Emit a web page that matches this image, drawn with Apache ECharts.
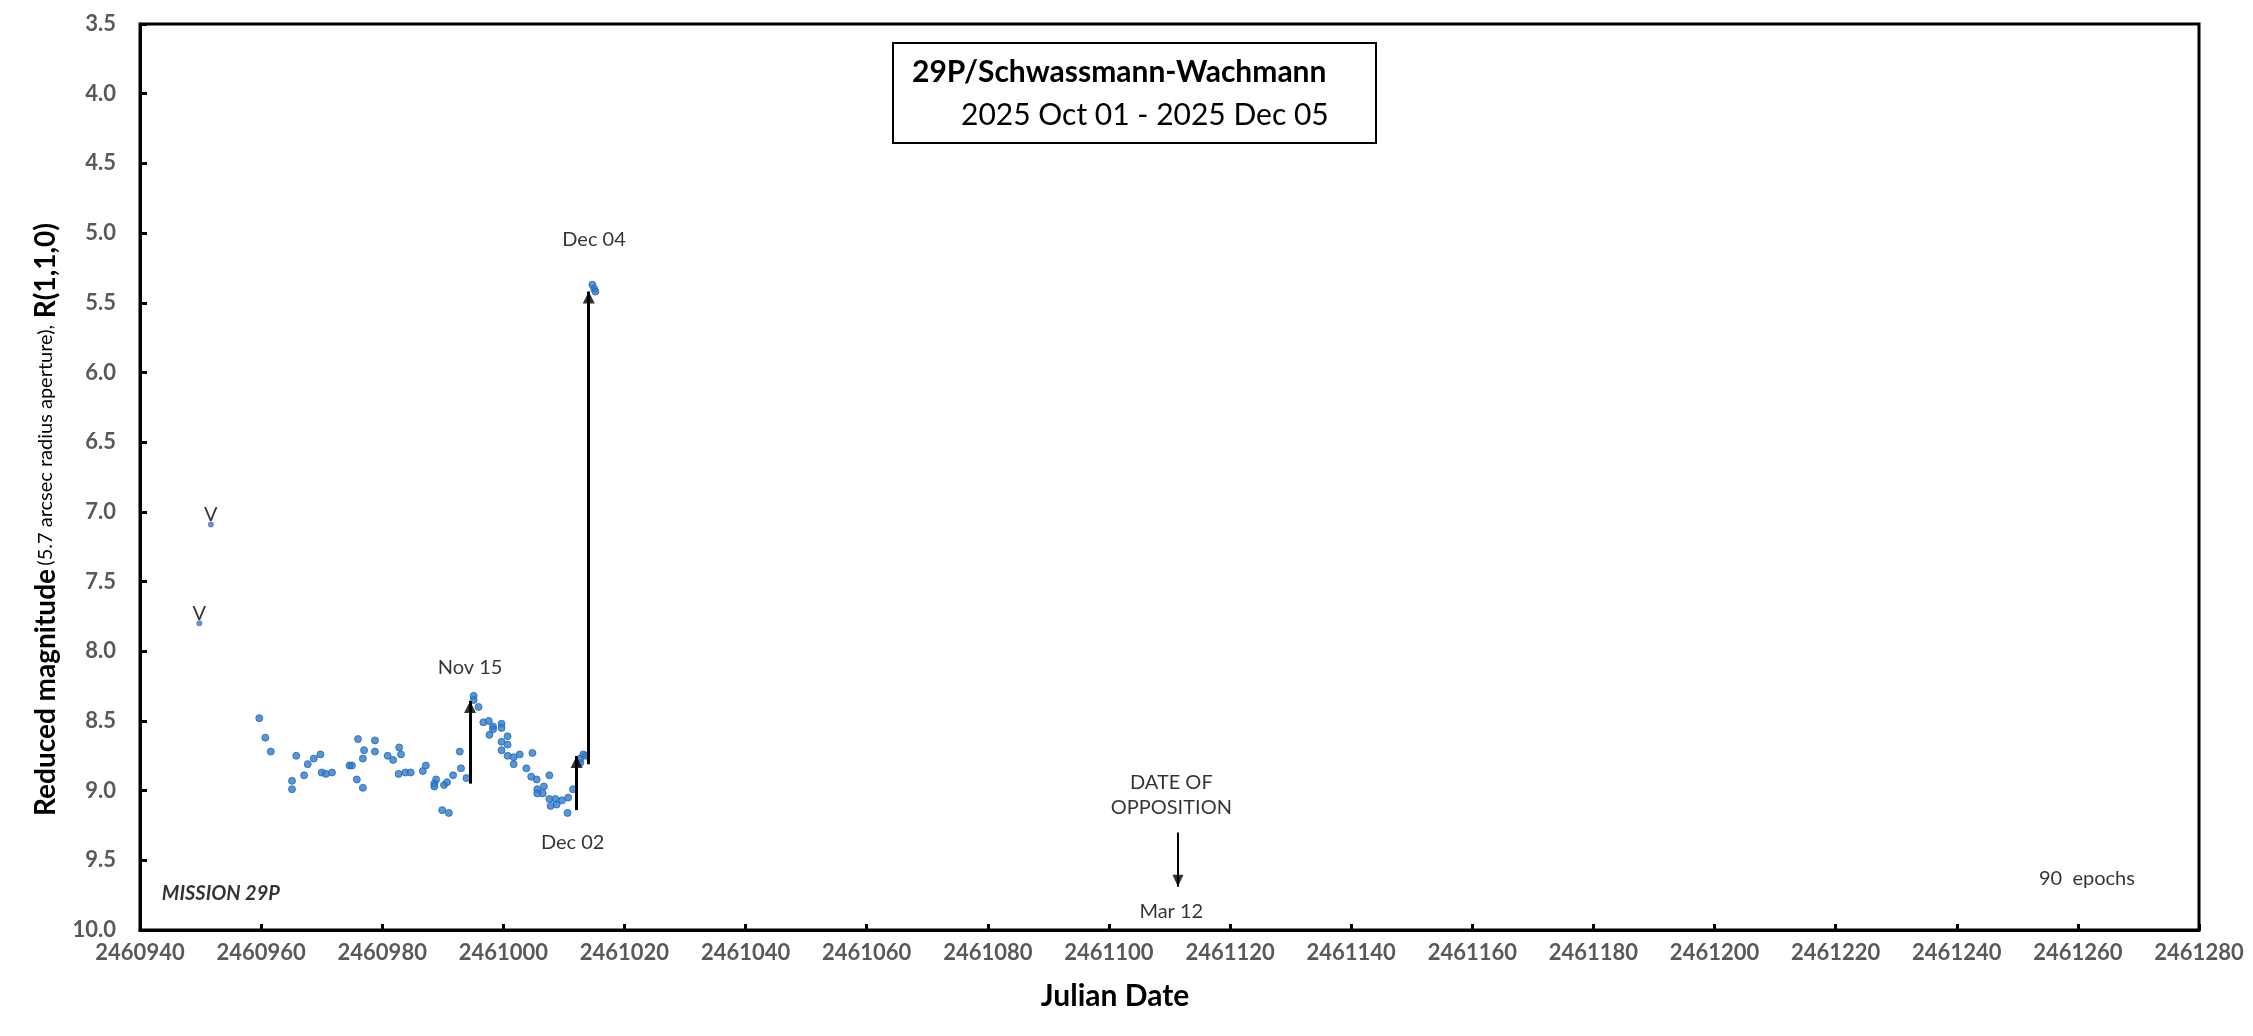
<!DOCTYPE html>
<html>
<head>
<meta charset="utf-8">
<script src="https://cdn.jsdelivr.net/npm/echarts@6/dist/echarts.min.js"></script>
<style>
html,body{margin:0;padding:0;background:#fff;}
#chart{width:2253px;height:1036px;}
</style>
</head>
<body>
<div id="chart"></div>
<script>
// ---- axis ranges ----
const xMin = 2460940, xMax = 2461280, xInterval = 20;
const yMin = 3.5, yMax = 10.0, yInterval = 0.5;

// ---- data: points flagged "V" ----
const vJD  = [2460949.8, 2460951.7];
const vMag = [7.80, 7.09];

// ---- data: main observations ----
const obsJD = [
  2460959.7, 2460960.7, 2460961.6, 2460965.1, 2460965.1, 2460965.8, 2460967.1, 2460967.7, 2460968.7, 2460969.8,
  2460970.0, 2460970.7, 2460971.7, 2460974.6, 2460975.0, 2460975.8, 2460976.0, 2460976.8, 2460977.0, 2460976.8,
  2460978.8, 2460978.8, 2460980.9, 2460981.8, 2460982.8, 2460983.1, 2460982.7, 2460983.8, 2460984.7, 2460986.7,
  2460987.2, 2460988.9, 2460988.6, 2460988.6, 2460989.9, 2460991.0, 2460990.2, 2460990.7, 2460991.7, 2460992.8,
  2460993.0, 2460993.9, 2460995.1, 2460995.1, 2460995.9, 2460996.7, 2460997.6, 2460998.3, 2460998.3, 2460997.7,
  2460999.7, 2460999.7, 2461000.7, 2460999.7, 2461000.7, 2460999.7, 2461000.7, 2461001.7, 2461001.7, 2461002.7,
  2461004.8, 2461003.8, 2461004.6, 2461005.5, 2461005.6, 2461005.6, 2461006.5, 2461006.7, 2461007.6, 2461007.6,
  2461007.8, 2461008.6, 2461008.8, 2461009.7, 2461010.7, 2461010.6, 2461011.5, 2461012.7, 2461012.7, 2461013.2,
  2461013.6, 2461014.7, 2461015.0, 2461015.2
];
const obsMag = [
  8.48, 8.62, 8.72, 8.93, 8.99, 8.75, 8.89, 8.81, 8.77, 8.74,
  8.87, 8.88, 8.87, 8.82, 8.82, 8.92, 8.63, 8.77, 8.71, 8.98,
  8.64, 8.72, 8.75, 8.78, 8.69, 8.74, 8.88, 8.87, 8.87, 8.86,
  8.82, 8.92, 8.95, 8.97, 9.14, 9.16, 8.96, 8.94, 8.89, 8.72,
  8.84, 8.91, 8.32, 8.35, 8.40, 8.51, 8.50, 8.54, 8.56, 8.60,
  8.52, 8.55, 8.61, 8.65, 8.67, 8.71, 8.75, 8.76, 8.81, 8.74,
  8.73, 8.84, 8.90, 8.92, 8.99, 9.02, 9.02, 8.97, 8.89, 9.06,
  9.11, 9.06, 9.10, 9.07, 9.05, 9.16, 8.99, 8.80, 8.77, 8.74,
  8.75, 5.37, 5.40, 5.42
];

// ---- annotation arrows: JD, tail magnitude, tip magnitude ----
const arrowJD   = [2460994.5, 2461012.1, 2461014.1, 2461111.4];
const arrowFrom = [8.95, 9.14, 8.81, 9.30];
const arrowTo   = [8.357, 8.752, 5.42, 9.69];

// ---- annotation texts ----
const noteText = ['Dec 04', 'Nov 15', 'Dec 02', 'DATE OF', 'OPPOSITION', 'Mar 12', '90  epochs'];
const noteJD   = [2461014.97, 2460994.5, 2461011.45, 2461110.3, 2461110.3, 2461110.3, 2461261.5];
const noteMag  = [5.05, 8.12, 9.37, 8.94, 9.12, 9.87, 9.63];

const missionText = 'MISSION 29P';
const missionJD = 2460943.6, missionMag = 9.74;

const titleText = '29P/Schwassmann-Wachmann';
const subtitleText = '2025 Oct 01 - 2025 Dec 05';

const FONT = 'Lato';

const chart = echarts.init(document.getElementById('chart'), null, {renderer: 'canvas'});

const arrowLines = arrowJD.map((x, i) => [
  {coord: [x, arrowFrom[i]], lineStyle: {width: i === 3 ? 2 : 3}},
  {coord: [x, arrowTo[i]]}
]);

// arrow heads: upward except the last (downward)
const arrowHeads = arrowJD.map((x, i) => {
  const down = arrowTo[i] > arrowFrom[i];
  return {
    value: [x, arrowTo[i]],
    symbolRotate: down ? 180 : 0,
    symbolOffset: down ? [0, -6] : [0, 6],
    symbolSize: i === 3 ? [11, 12] : [12, 12]
  };
});

const option = {
  backgroundColor: '#ffffff',
  animation: false,
  grid: {
    left: 140, right: 54, top: 24, bottom: 106,
    show: true, borderColor: '#000', borderWidth: 3, backgroundColor: 'transparent'
  },
  xAxis: {
    type: 'value', min: xMin, max: xMax, interval: xInterval,
    axisLine: {show: true, onZero: false, lineStyle: {color: '#000', width: 3}},
    axisTick: {show: true, inside: true, length: 6, lineStyle: {color: '#000', width: 3}},
    axisLabel: {color: '#595959', fontFamily: FONT, fontWeight: 'bold', fontSize: 22, margin: 12,
      formatter: v => String(v)},
    splitLine: {show: false}
  },
  yAxis: {
    type: 'value', min: yMin, max: yMax, interval: yInterval, inverse: true,
    axisLine: {show: true, onZero: false, lineStyle: {color: '#000', width: 3}},
    axisTick: {show: true, inside: true, length: 7, lineStyle: {color: '#000', width: 3}},
    axisLabel: {color: '#595959', fontFamily: FONT, fontWeight: 'bold', fontSize: 22, margin: 24,
      formatter: v => v.toFixed(1)},
    splitLine: {show: false}
  },
  series: [
    {
      type: 'scatter', name: 'obs',
      data: obsJD.map((x, i) => [x, obsMag[i]]),
      symbolSize: 7,
      itemStyle: {color: '#2F7BCB', borderColor: '#1F6AB8', borderWidth: 1},
      z: 3,
      markLine: {
        silent: true, symbol: ['none', 'none'],
        label: {show: false},
        lineStyle: {color: '#000', type: 'solid', width: 3},
        emphasis: {disabled: true},
        data: arrowLines
      }
    },
    {
      type: 'scatter', name: 'arrowHeads',
      data: arrowHeads,
      symbol: 'triangle', silent: true, z: 4,
      itemStyle: {color: '#000'}
    },
    {
      type: 'scatter', name: 'V',
      data: vJD.map((x, i) => [x, vMag[i]]),
      symbolSize: 6,
      itemStyle: {color: '#4472C4'},
      label: {show: true, formatter: 'V', position: 'top', distance: -3,
        color: '#000', fontFamily: FONT, fontSize: 20}
    },
    {
      type: 'scatter', name: 'notes',
      data: noteJD.map((x, i) => [x, noteMag[i], noteText[i]]),
      symbolSize: 0, silent: true,
      label: {show: true, position: 'inside', formatter: p => p.value[2],
        color: '#000', fontFamily: FONT, fontSize: 20}
    },
    {
      type: 'scatter', name: 'mission',
      data: [[missionJD, missionMag, missionText]],
      symbolSize: 0, silent: true,
      label: {show: true, position: 'right', distance: 0, formatter: p => p.value[2],
        color: '#000', fontFamily: FONT, fontSize: 20, fontWeight: 'bold', fontStyle: 'italic'}
    }
  ],
  graphic: [
    {type: 'rect', shape: {x: 893, y: 43, width: 483, height: 100},
      style: {fill: '#fff', stroke: '#000', lineWidth: 2}, z: 10},
    {type: 'text', x: 912, y: 72, z: 11,
      style: {text: titleText, font: 'bold 30px Lato', fill: '#000', textVerticalAlign: 'middle', textAlign: 'left'}},
    {type: 'text', x: 961, y: 115, z: 11,
      style: {text: subtitleText, font: '30px Lato', fill: '#000', textVerticalAlign: 'middle', textAlign: 'left'}},
    {type: 'text', x: 1115, y: 996, z: 11,
      style: {text: 'Julian Date', font: 'bold 30px Lato', fill: '#000', textAlign: 'center', textVerticalAlign: 'middle'}},
    {type: 'text', x: 46, y: 816, rotation: Math.PI / 2, z: 11,
      style: {
        text: '{a|Reduced magnitude} {b|(5.7 arcsec radius aperture),}  {a|R(1,1,0)}',
        textAlign: 'left', textVerticalAlign: 'middle',
        rich: {
          a: {fontFamily: FONT, fontWeight: 'bold', fontSize: 28, fill: '#000', color: '#000'},
          b: {fontFamily: FONT, fontSize: 20, fill: '#000', color: '#000'}
        }
      }}
  ]
};
chart.setOption(option);
</script>
</body>
</html>
